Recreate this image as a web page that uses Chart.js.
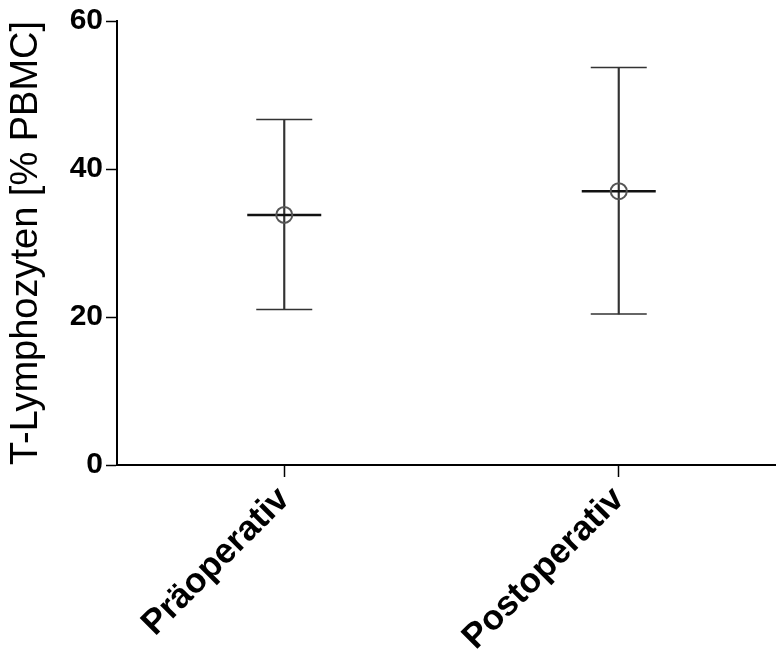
<!DOCTYPE html>
<html>
<head>
<meta charset="utf-8">
<script src="https://cdn.jsdelivr.net/npm/chart.js@4.4.1/dist/chart.umd.min.js"></script>
<style>
html, body { margin: 0; padding: 0; background: #fff; overflow: hidden; }
#wrap { width: 786px; height: 666px; }
</style>
</head>
<body>
<div id="wrap"><canvas id="chart" width="786" height="666"></canvas></div>
<script>
// values (mean with range whiskers)
var groups = ["Präoperativ", "Postoperativ"];
var means = [33.8, 37.0];
var lows = [21.0, 20.4];
var highs = [46.7, 53.7];
var yTicks = [0, 20, 40, 60];

var ctx = document.getElementById("chart").getContext("2d");

Chart.defaults.font.family = "'Liberation Sans', Arial, Helvetica, sans-serif";
Chart.defaults.color = "#000";

var whiskers = groups.map(function(g, i) { return [lows[i], highs[i]]; });

var chart = new Chart(ctx, {
    type: "bar",
    data: {
        labels: groups,
        datasets: [{
            // mean marker (open circle)
            type: "line",
            data: means,
            showLine: false,
            pointStyle: "circle",
            pointRadius: 8,
            pointBorderWidth: 2,
            pointBorderColor: "#555",
            pointBackgroundColor: "rgba(0,0,0,0)"
        }, {
            // mean line
            type: "line",
            data: means,
            showLine: false,
            pointStyle: "line",
            pointRadius: 37,
            pointBorderWidth: 2.5,
            pointBorderColor: "#111"
        }, {
            // upper cap
            type: "line",
            data: highs,
            showLine: false,
            pointStyle: "line",
            pointRadius: 28,
            pointBorderWidth: 1.5,
            pointBorderColor: "#333"
        }, {
            // lower cap
            type: "line",
            data: lows,
            showLine: false,
            pointStyle: "line",
            pointRadius: 28,
            pointBorderWidth: 1.5,
            pointBorderColor: "#333"
        }, {
            // vertical whisker
            data: whiskers,
            backgroundColor: "#333",
            barThickness: 1.5
        }]
    },
    options: {
        responsive: false,
        animation: false,
        events: [],
        layout: { autoPadding: false, padding: { top: 0, left: 0, right: 0, bottom: 0 } },
        plugins: {
            legend: { display: false },
            tooltip: { enabled: false }
        },
        scales: {
            x: {
                offset: true,
                grid: {
                    drawOnChartArea: false,
                    offset: false,
                    tickLength: 12,
                    tickWidth: 1.5,
                    tickColor: "#000"
                },
                border: { color: "#000", width: 2 },
                ticks: {
                    maxRotation: 45,
                    minRotation: 45,
                    padding: 2,
                    color: "#000",
                    font: { size: 35, weight: "bold" }
                },
                afterFit: function(scale) { scale.height = 201; }
            },
            y: {
                min: 0,
                max: 60,
                afterBuildTicks: function(scale) {
                    scale.ticks = yTicks.map(function(v) { return { value: v }; });
                },
                grid: {
                    drawOnChartArea: false,
                    tickLength: 11,
                    tickWidth: 1.5,
                    tickColor: "#000"
                },
                border: { color: "#000", width: 2 },
                ticks: {
                    padding: 3,
                    color: "#000",
                    font: { size: 30, weight: "bold" }
                },
                title: {
                    display: true,
                    text: "T-Lymphozyten [% PBMC]",
                    color: "#000",
                    font: { size: 38, weight: "normal" },
                    padding: { top: 4, bottom: 0 }
                },
                afterFit: function(scale) { scale.width = 117; }
            }
        }
    }
});
</script>
</body>
</html>
